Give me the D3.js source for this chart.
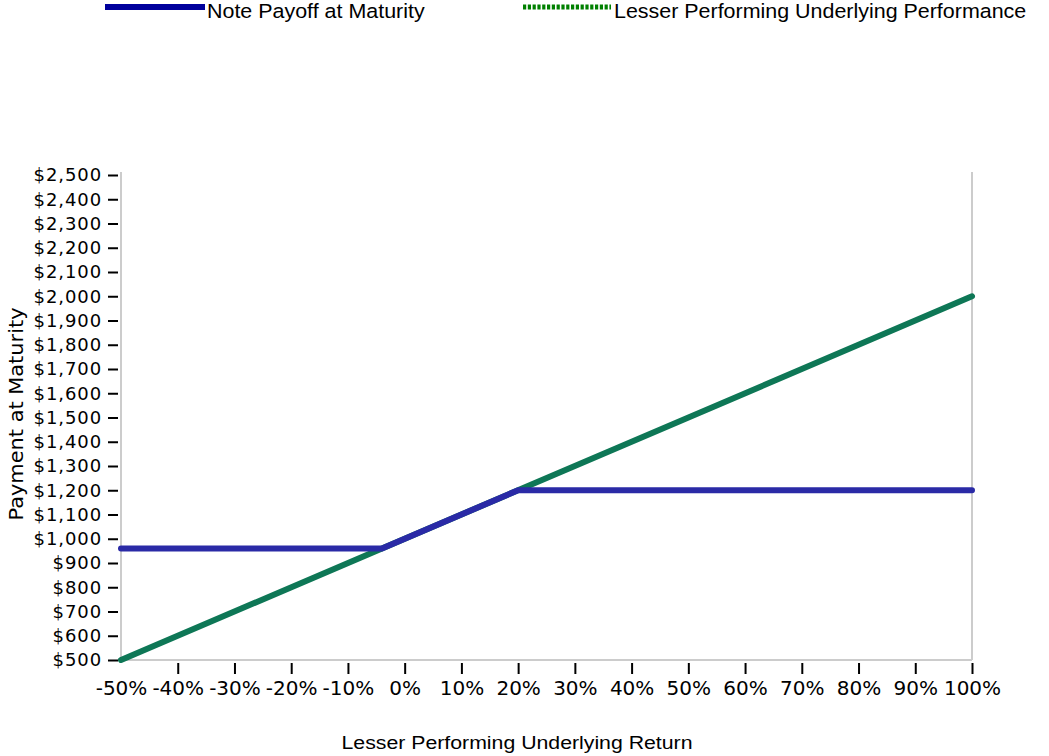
<!DOCTYPE html>
<html>
<head>
<meta charset="utf-8">
<script src="https://cdn.jsdelivr.net/npm/d3@7"></script>
<style>
  body { margin: 0; background: #fff; }
  svg { display: block; }
</style>
</head>
<body>
<div id="chart"></div>
<script>
// underlying return (%) -> payment at maturity ($)
const underlyingReturns = [-50, 100];
const underlyingPayments = [500, 2000];

const noteReturns = [-50, -4, 20, 100];
const notePayments = [960, 960, 1200, 1200];

const xTicks = [-50, -40, -30, -20, -10, 0, 10, 20, 30, 40, 50, 60, 70, 80, 90, 100];
const yTicks = [500, 600, 700, 800, 900, 1000, 1100, 1200, 1300, 1400, 1500, 1600, 1700, 1800, 1900, 2000, 2100, 2200, 2300, 2400, 2500];

const seriesNames = ["Note Payoff at Maturity", "Lesser Performing Underlying Performance"];

const width = 1049;
const height = 756;
const margin = { top: 175, right: 77, bottom: 96, left: 121 };

const svg = d3.select("#chart").append("svg")
    .attr("width", width)
    .attr("height", height);

const x = d3.scaleLinear()
    .domain([-50, 100])
    .range([margin.left, width - margin.right]);

const y = d3.scaleLinear()
    .domain([500, 2500])
    .range([height - margin.bottom, margin.top]);

// frame: left, bottom, right in light gray
const grey = "#cccccc";
svg.append("line")
    .attr("x1", x(-50)).attr("x2", x(-50))
    .attr("y1", y(2500) - 3).attr("y2", y(500))
    .attr("stroke", grey).attr("stroke-width", 2);
svg.append("line")
    .attr("x1", x(100)).attr("x2", x(100))
    .attr("y1", y(2500) - 3).attr("y2", y(500))
    .attr("stroke", grey).attr("stroke-width", 2);
svg.append("line")
    .attr("x1", x(-50)).attr("x2", x(100))
    .attr("y1", y(500)).attr("y2", y(500))
    .attr("stroke", grey).attr("stroke-width", 2);

// y axis
const yAxis = svg.append("g")
    .attr("transform", `translate(${margin.left - 3},0)`)
    .call(d3.axisLeft(y)
        .tickValues(yTicks)
        .tickSize(10)
        .tickPadding(6)
        .tickFormat(d => "$" + d3.format(",")(d)));
yAxis.select(".domain").remove();
yAxis.selectAll(".tick line").attr("stroke", "#000").attr("stroke-width", 2);
yAxis.selectAll(".tick text")
    .attr("fill", "#000")
    .style("font-family", "DejaVu Sans")
    .style("font-size", "18px")
    .style("letter-spacing", "0.9px");

// x axis
const xAxis = svg.append("g")
    .attr("transform", `translate(0,${height - margin.bottom + 3})`)
    .call(d3.axisBottom(x)
        .tickValues(xTicks)
        .tickSize(11)
        .tickPadding(7)
        .tickFormat(d => d + "%"));
xAxis.select(".domain").remove();
xAxis.selectAll(".tick line")
    .attr("stroke", "#000").attr("stroke-width", 2)
    .attr("opacity", d => d === -50 ? 0 : 1);
xAxis.selectAll(".tick text")
    .attr("fill", "#000")
    .style("font-family", "DejaVu Sans")
    .style("font-size", "20px");

// axis titles
svg.append("text")
    .attr("transform", "translate(517,749) scale(1.12,1)")
    .attr("text-anchor", "middle")
    .style("font-family", "Liberation Sans")
    .style("font-size", "19px")
    .text("Lesser Performing Underlying Return");

svg.append("text")
    .attr("transform", "translate(23,414) rotate(-90) scale(1.1,1)")
    .attr("text-anchor", "middle")
    .style("font-family", "DejaVu Sans")
    .style("font-size", "19px")
    .text("Payment at Maturity");

// series
const line = d3.line()
    .x(d => x(d[0]))
    .y(d => y(d[1]));

const underlying = d3.zip(underlyingReturns, underlyingPayments);
const note = d3.zip(noteReturns, notePayments);

svg.append("path")
    .datum(underlying)
    .attr("d", line)
    .attr("fill", "none")
    .attr("stroke", "#0e7756")
    .attr("stroke-width", 6)
    .attr("stroke-linecap", "round");

svg.append("path")
    .datum(note)
    .attr("d", line)
    .attr("fill", "none")
    .attr("stroke", "#2a2aa6")
    .attr("stroke-width", 6)
    .attr("stroke-linecap", "round")
    .attr("stroke-linejoin", "round");

// legend
const legend = svg.append("g");
legend.append("line")
    .attr("x1", 105).attr("x2", 205)
    .attr("y1", 7).attr("y2", 7)
    .attr("stroke", "#00009c").attr("stroke-width", 6);
legend.append("text")
    .attr("transform", "translate(207,18) scale(1.1,1)")
    .style("font-family", "Liberation Sans")
    .style("font-size", "19.5px")
    .text(seriesNames[0]);

legend.append("line")
    .attr("x1", 523).attr("x2", 611)
    .attr("y1", 7).attr("y2", 7)
    .attr("stroke", "#008000").attr("stroke-width", 5)
    .attr("stroke-dasharray", "3.2,1.6");
legend.append("text")
    .attr("transform", "translate(614,18) scale(1.1,1)")
    .style("font-family", "Liberation Sans")
    .style("font-size", "19.5px")
    .text(seriesNames[1]);
</script>
</body>
</html>
